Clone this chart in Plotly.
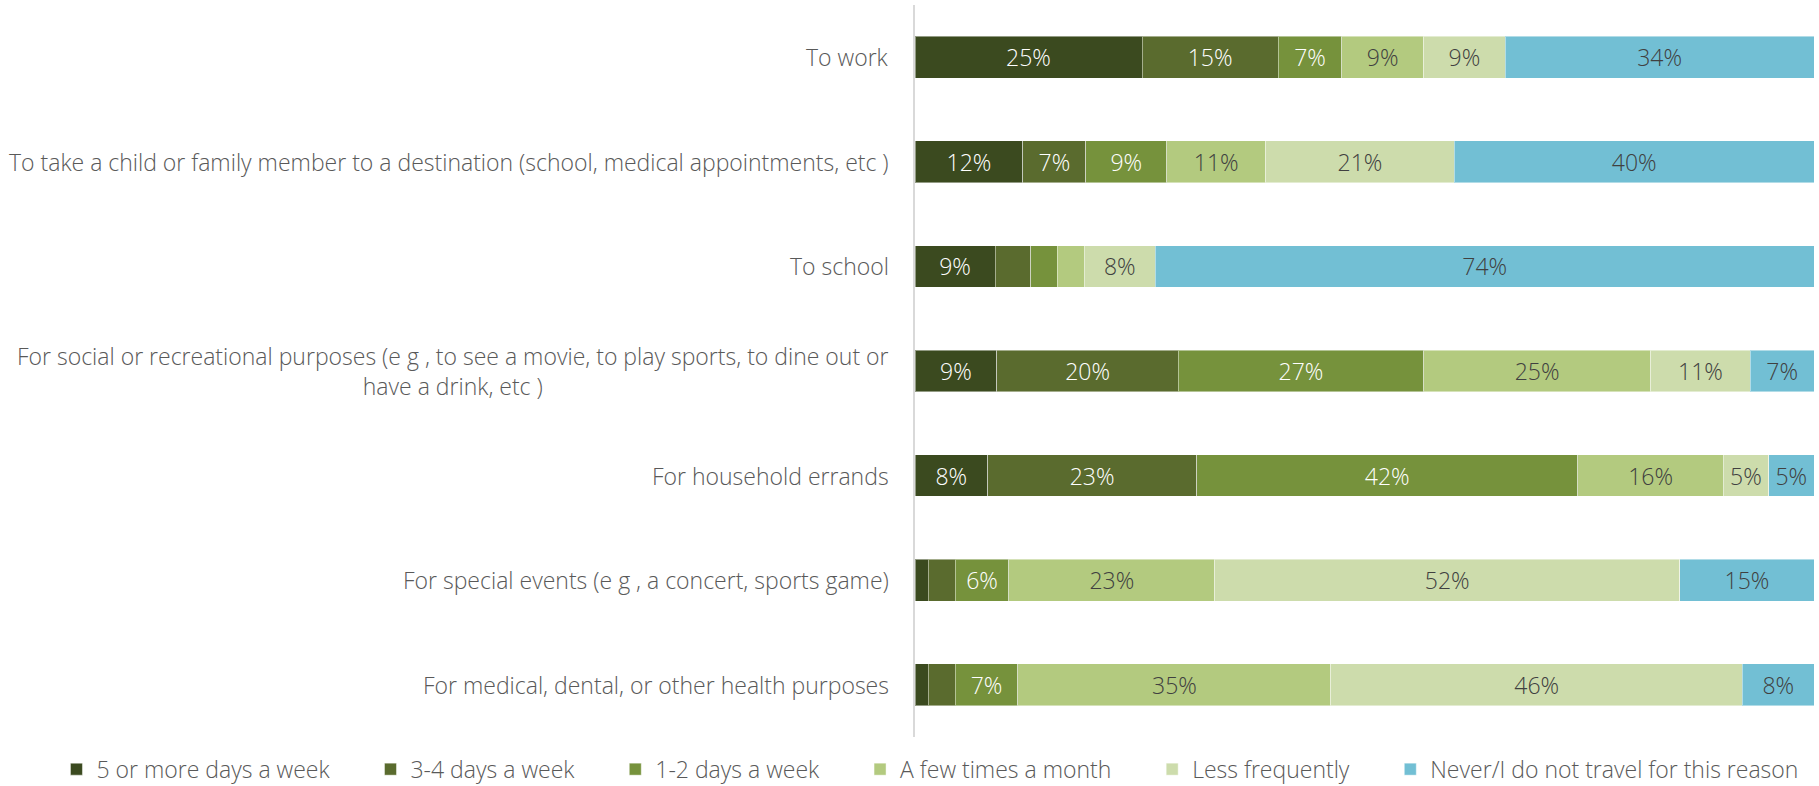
import plotly.graph_objects as go

# Trip purposes (top to bottom)
categories = [
    "To work",
    "To take a child or family member to a destination (school, medical appointments, etc )",
    "To school",
    "For social or recreational purposes (e g , to see a movie, to play sports, to dine out or<br>have a drink, etc )",
    "For household errands",
    "For special events (e g , a concert, sports game)",
    "For medical, dental, or other health purposes",
]

# Share of respondents (%) by travel frequency
five_plus = [25, 12, 9, 9, 8, 1.5, 1.5]
three_four = [15, 7, 4, 20, 23, 3, 3]
one_two = [7, 9, 3, 27, 42, 6, 7]
few_month = [9, 11, 3, 25, 16, 23, 35]
less_freq = [9, 21, 8, 11, 5, 52, 46]
never = [34, 40, 74, 7, 5, 15, 8]

series_names = [
    "5 or more days a week",
    "3-4 days a week",
    "1-2 days a week",
    "A few times a month",
    "Less frequently",
    "Never/I do not travel for this reason",
]
series_values = [five_plus, three_four, one_two, few_month, less_freq, never]
colors = ["#3B4A1F", "#5A6B2E", "#76923C", "#B3CA7F", "#CDDCAC", "#72BFD4"]
text_colors = ["#FFFFFF", "#FFFFFF", "#FFFFFF", "#404040", "#404040", "#404040"]

FONT = "Open Sans"
FSIZE = 23
WEIGHT = 300
LABEL_GRAY = "#595959"
PAD = "\u00a0" * 6  # extra spacing between legend entries

fig = go.Figure()
for i, (name, vals, col, tcol) in enumerate(zip(series_names, series_values, colors, text_colors)):
    fig.add_trace(go.Bar(
        name=name + (PAD if i < len(series_names) - 1 else ""),
        y=categories,
        x=vals,
        orientation="h",
        marker=dict(color=col, line=dict(color="rgba(255,255,255,0.45)", width=1)),
        text=[f"{v:g}%" if v >= 5 else "" for v in vals],
        textposition="inside",
        insidetextanchor="middle",
        textangle=0,
        textfont=dict(family=FONT, size=FSIZE, color=tcol, weight=WEIGHT),
        hovertemplate=name + ": %{x:.0f}%<extra></extra>",
    ))

# Category labels: right-aligned block, lines centred within it
for cat in categories:
    fig.add_annotation(
        x=0, xref="paper", y=cat, yref="y",
        text=cat, showarrow=False,
        xanchor="right", yanchor="middle", align="center",
        xshift=-24,
        font=dict(family=FONT, size=FSIZE, color=LABEL_GRAY, weight=WEIGHT),
    )

fig.update_layout(
    barmode="stack",
    barnorm="percent",
    bargap=0.6,
    width=1819,
    height=786,
    margin=dict(l=915, r=5, t=5, b=49, autoexpand=False),
    paper_bgcolor="white",
    plot_bgcolor="white",
    uniformtext=dict(minsize=FSIZE, mode="show"),
    font=dict(family=FONT, size=FSIZE, color=LABEL_GRAY, weight=WEIGHT),
    legend=dict(
        orientation="h",
        xref="paper", yref="paper",
        x=-0.955, y=-0.044,
        xanchor="left", yanchor="middle",
        font=dict(family=FONT, size=FSIZE, color=LABEL_GRAY, weight=WEIGHT),
        itemwidth=30,
        traceorder="normal",
    ),
    xaxis=dict(range=[0, 100], visible=False, fixedrange=True),
    yaxis=dict(
        autorange="reversed",
        showticklabels=False,
        showgrid=False,
        showline=True,
        linecolor="#D9D9D9",
        linewidth=2,
        ticks="",
        fixedrange=True,
    ),
)

fig.write_html("out.html")
